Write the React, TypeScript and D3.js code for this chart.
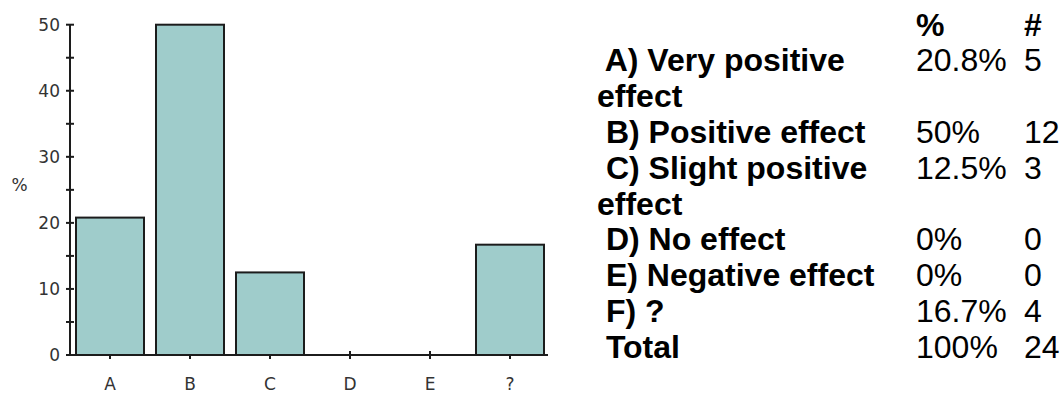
import React, { useMemo } from "react";
import * as d3 from "d3";

// Survey answer categories (bar axis) and their shares in percent
const categories = ["A", "B", "C", "D", "E", "?"];
const percentValues = [20.8, 50, 12.5, 0, 0, 16.7];
const responseCounts = [5, 12, 3, 0, 0, 4];

// Table rows beside the chart
const optionLabels = [
  "A) Very positive effect",
  "B) Positive effect",
  "C) Slight positive effect",
  "D) No effect",
  "E) Negative effect",
  "F) ?",
];
const percentLabels = ["20.8%", "50%", "12.5%", "0%", "0%", "16.7%"];
const totalLabel = "Total";
const totalPercentLabel = "100%";

// Y axis ticks
const yMajorTicks = [0, 10, 20, 30, 40, 50];
const yMinorTicks = [0, 5, 10, 15, 20, 25, 30, 35, 40, 45, 50];

const W = 1063;
const H = 393;

const plot = { left: 70, right: 548, top: 24.7, bottom: 355 };
const axisColor = "#1c1c1c";
const barFill = "#9fcccb";
const chartFont = "'DejaVu Sans', Verdana, sans-serif";
const tableFont = "'Liberation Sans', Arial, Helvetica, sans-serif";

const table = {
  labelX: 597,
  pctX: 916,
  countX: 1024,
  labelWidth: 310,
  headerBaseline: 35.5,
  lineHeight: 35.8,
  fontSize: 32,
};

function wrapLabel(text: string, maxWidth: number): string[] {
  const canvas = document.createElement("canvas");
  const ctx = canvas.getContext("2d");
  const words = (" " + text).split(/(?<=\S) /);
  if (!ctx) return [" " + text];
  ctx.font = `bold ${table.fontSize}px ${tableFont}`;
  const lines: string[] = [];
  let current = "";
  words.forEach((w) => {
    const candidate = current ? current + " " + w : w;
    if (current && ctx.measureText(candidate).width > maxWidth) {
      lines.push(current);
      current = w;
    } else {
      current = candidate;
    }
  });
  if (current) lines.push(current);
  return lines;
}

export default function App() {
  const x = d3
    .scaleBand<string>()
    .domain(categories)
    .range([plot.left, plot.left + 480])
    .paddingInner(0.15)
    .paddingOuter(0.075);
  const y = d3.scaleLinear().domain([0, 50]).range([plot.bottom, plot.top]);

  const rows = useMemo(() => {
    const out: { lines: string[]; pct: string; count: string }[] = [];
    optionLabels.forEach((label, i) => {
      out.push({
        lines: wrapLabel(label, table.labelWidth),
        pct: percentLabels[i],
        count: String(responseCounts[i]),
      });
    });
    out.push({
      lines: [" " + totalLabel],
      pct: totalPercentLabel,
      count: String(d3.sum(responseCounts)),
    });
    return out;
  }, []);

  let lineIndex = 1;
  const tableRows = rows.map((r, i) => {
    const start = lineIndex;
    lineIndex += r.lines.length;
    const baseline = table.headerBaseline + start * table.lineHeight;
    return (
      <g key={i}>
        {r.lines.map((ln, j) => (
          <text
            key={j}
            x={table.labelX}
            y={baseline + j * table.lineHeight}
            fontWeight="bold"
            xmlSpace="preserve"
            style={{ whiteSpace: "pre" }}
          >
            {ln}
          </text>
        ))}
        <text x={table.pctX} y={baseline}>
          {r.pct}
        </text>
        <text x={table.countX} y={baseline}>
          {r.count}
        </text>
      </g>
    );
  });

  return (
    <svg
      width={W}
      height={H}
      viewBox={`0 0 ${W} ${H}`}
      style={{ position: "absolute", left: 0, top: 0, background: "#fff" }}
    >
      <rect width={W} height={H} fill="#fff" />

      {/* bar chart */}
      <g fontFamily={chartFont} fontSize={17} fill="#333">
        {/* y ticks */}
        {yMinorTicks.map((t) => (
          <line
            key={"m" + t}
            x1={plot.left - 4}
            x2={plot.left + 4}
            y1={y(t)}
            y2={y(t)}
            stroke={axisColor}
            strokeWidth={2}
          />
        ))}
        {yMajorTicks.map((t) => (
          <text key={"l" + t} x={60} y={y(t)} dy="0.36em" textAnchor="end">
            {t}
          </text>
        ))}
        <text x={19.5} y={185} dy="0.36em" textAnchor="middle">
          %
        </text>

        {/* x ticks */}
        {categories.map((c) => {
          const cx = (x(c) ?? 0) + x.bandwidth() / 2;
          return (
            <g key={"xt" + c}>
              <line
                x1={cx}
                x2={cx}
                y1={plot.bottom - 4}
                y2={plot.bottom + 4}
                stroke={axisColor}
                strokeWidth={2}
              />
              <text x={cx} y={390} textAnchor="middle">
                {c}
              </text>
            </g>
          );
        })}

        {/* bars */}
        {categories.map((c, i) =>
          percentValues[i] > 0 ? (
            <rect
              key={"b" + c}
              x={x(c)}
              y={y(percentValues[i])}
              width={x.bandwidth()}
              height={y(0) - y(percentValues[i])}
              fill={barFill}
              stroke={axisColor}
              strokeWidth={2}
            />
          ) : null
        )}

        {/* axis lines */}
        <line
          x1={plot.left}
          x2={plot.left}
          y1={plot.top}
          y2={plot.bottom}
          stroke={axisColor}
          strokeWidth={2}
        />
        <line
          x1={plot.left - 4}
          x2={plot.right}
          y1={plot.bottom}
          y2={plot.bottom}
          stroke={axisColor}
          strokeWidth={2}
        />
      </g>

      {/* results table */}
      <g fontFamily={tableFont} fontSize={table.fontSize} fill="#000">
        <text x={table.pctX} y={table.headerBaseline} fontWeight="bold">
          %
        </text>
        <text x={table.countX} y={table.headerBaseline} fontWeight="bold">
          #
        </text>
        {tableRows}
      </g>
    </svg>
  );
}
